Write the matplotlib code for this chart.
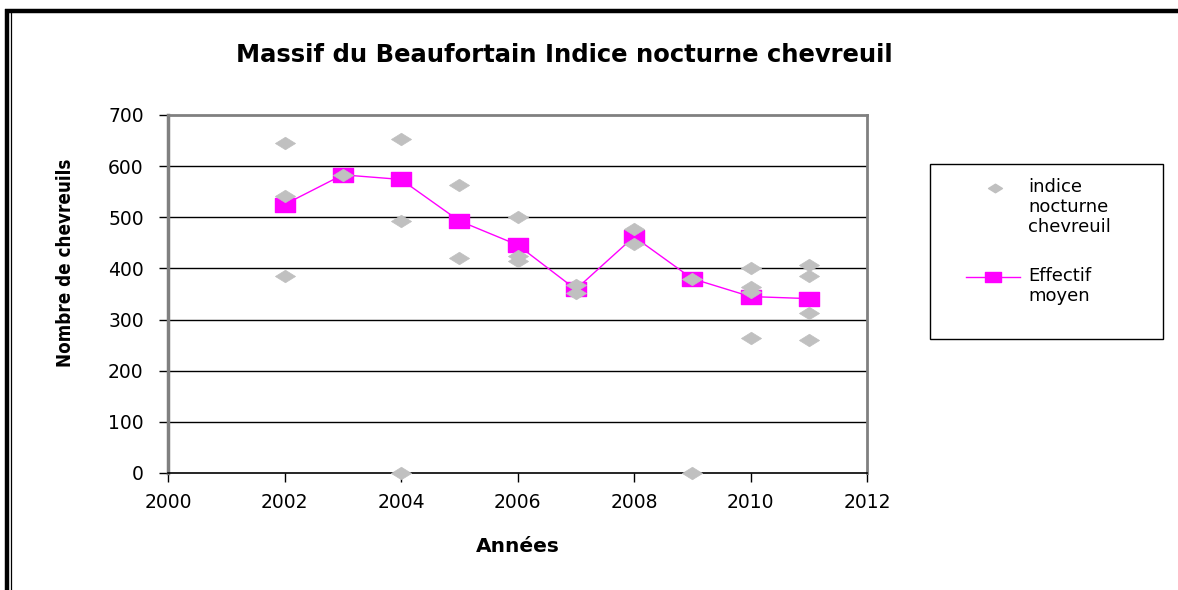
import matplotlib
matplotlib.use("Agg")
import matplotlib.pyplot as plt
from matplotlib.path import Path
from matplotlib.lines import Line2D
from matplotlib.patches import Rectangle

# ---- data ----
indice_annees = [2002, 2002, 2002,
                 2003,
                 2004, 2004, 2004,
                 2005, 2005,
                 2006, 2006, 2006,
                 2007, 2007,
                 2008, 2008,
                 2009, 2009,
                 2010, 2010, 2010, 2010,
                 2011, 2011, 2011, 2011]
indice_valeurs = [645, 542, 386,
                  582,
                  654, 493, 0,
                  564, 421,
                  500, 425, 414,
                  368, 352,
                  478, 447,
                  380, 0,
                  400, 364, 353, 263,
                  407, 386, 313, 260]
moyen_annees = [2002, 2003, 2004, 2005, 2006, 2007, 2008, 2009, 2010, 2011]
moyen_valeurs = [525, 583, 574, 493, 446, 359, 462, 380, 345, 341]

x_ticks = [2000, 2002, 2004, 2006, 2008, 2010, 2012]
y_ticks = [0, 100, 200, 300, 400, 500, 600, 700]

titre = "Massif du Beaufortain Indice nocturne chevreuil"
label_x = "Années"
label_y = "Nombre de chevreuils"
legende = ["indice\nnocturne\nchevreuil", "Effectif\nmoyen"]

GRIS = "#C0C0C0"
MAGENTA = "#FF00FF"

# ---- markers ----
diamant = Path([(-1, 0), (0, 0.62), (1, 0), (0, -0.62), (-1, 0)],
               [Path.MOVETO, Path.LINETO, Path.LINETO, Path.LINETO, Path.CLOSEPOLY])
carre = Path([(-1, -0.68), (1, -0.68), (1, 0.68), (-1, 0.68), (-1, -0.68)],
             [Path.MOVETO, Path.LINETO, Path.LINETO, Path.LINETO, Path.CLOSEPOLY])

W, H = 1178, 590
fig = plt.figure(figsize=(W / 100, H / 100), dpi=100)
fig.patch.set_facecolor("white")

ax = fig.add_axes([168 / W, 1 - 473 / H, (867 - 168) / W, (473 - 115) / H])
ax.set_xlim(2000, 2012)
ax.set_ylim(0, 700)

for y in y_ticks[1:-1]:
    ax.axhline(y, color="black", lw=1.0, zorder=1)

ax.plot(moyen_annees, moyen_valeurs, color=MAGENTA, lw=1.0,
        marker=carre, markersize=14.5, markerfacecolor=MAGENTA,
        markeredgecolor=MAGENTA, zorder=3, clip_on=False)
ax.plot(indice_annees, indice_valeurs, linestyle="none",
        marker=diamant, markersize=14.5, markerfacecolor=GRIS,
        markeredgecolor=GRIS, markeredgewidth=0.5,
        zorder=4, clip_on=False)

ax.set_xticks(x_ticks)
ax.set_yticks(y_ticks)
ax.tick_params(direction="out", length=6.5, width=1, color="black",
               labelsize=13.5)
ax.tick_params(axis="x", pad=8)
ax.tick_params(axis="y", pad=11)
for lab in ax.get_xticklabels() + ax.get_yticklabels():
    lab.set_family("DejaVu Sans")

for s in ["top", "right"]:
    ax.spines[s].set_color("#808080")
    ax.spines[s].set_linewidth(2.0)
ax.spines["left"].set_color("#808080")
ax.spines["left"].set_linewidth(2.5)
ax.spines["bottom"].set_color("black")
ax.spines["bottom"].set_linewidth(1.2)

ax.set_xlabel(label_x, fontsize=14.5, fontweight="bold", family="DejaVu Sans",
              labelpad=18)
ax.set_ylabel(label_y, fontsize=13.5, family="DejaVu Sans", fontstretch="condensed",
              fontweight="bold")
ax.yaxis.label.set_va("center")
ax.yaxis.set_label_coords((65 - 168) / (867 - 168), (473 - 263) / (473 - 115))

fig.text(564 / W, 1 - 55 / H, titre, ha="center", va="center",
         fontsize=17.5, fontweight="bold", family="DejaVu Sans")

# ---- legend (drawn by hand to match the box layout) ----
fig.add_artist(Rectangle((930 / W, 1 - 339 / H), (1163 - 930) / W, (339 - 164) / H,
                         transform=fig.transFigure, facecolor="white",
                         edgecolor="black", lw=1.0))
fig.add_artist(Line2D([995 / W], [1 - 188 / H], transform=fig.transFigure,
                      linestyle="none", marker=diamant, markersize=10,
                      markerfacecolor=GRIS, markeredgecolor=GRIS))
fig.add_artist(Line2D([966 / W, 1020 / W], [1 - 277 / H, 1 - 277 / H],
                      transform=fig.transFigure, color=MAGENTA, lw=1.0))
fig.add_artist(Line2D([993 / W], [1 - 277 / H], transform=fig.transFigure,
                      linestyle="none", marker=carre, markersize=11,
                      markerfacecolor=MAGENTA, markeredgecolor=MAGENTA))
fig.text(1028 / W, 1 - 178 / H, legende[0], ha="left", va="top",
         fontsize=13, family="DejaVu Sans", linespacing=1.15)
fig.text(1028 / W, 1 - 267 / H, legende[1], ha="left", va="top",
         fontsize=13, family="DejaVu Sans", linespacing=1.15)

# ---- outer frame (top and left only) ----
fig.add_artist(Line2D([5 / W, 1.0], [1 - 11 / H, 1 - 11 / H],
                      transform=fig.transFigure, color="black", lw=3.2,
                      solid_capstyle="butt"))
fig.add_artist(Line2D([7 / W, 7 / W], [0, 1 - 9 / H],
                      transform=fig.transFigure, color="black", lw=3.2,
                      solid_capstyle="butt"))
fig.add_artist(Line2D([10.5 / W, 10.5 / W], [0, 1 - 12 / H],
                      transform=fig.transFigure, color="black", lw=0.9,
                      solid_capstyle="butt"))

fig.savefig("out.png", dpi=100)
